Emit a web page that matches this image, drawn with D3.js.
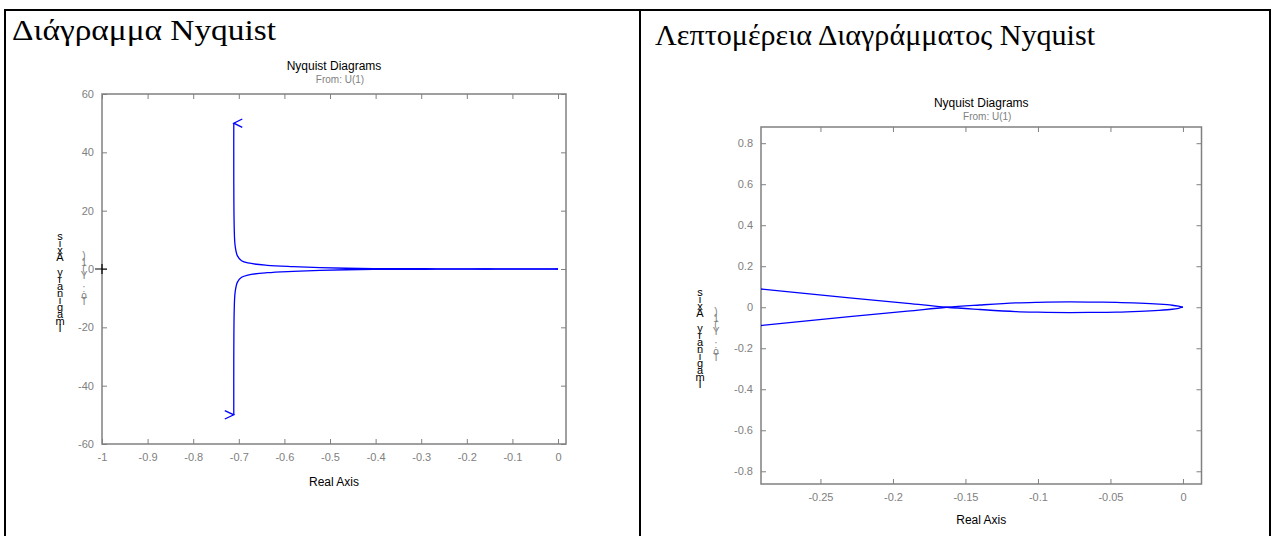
<!DOCTYPE html>
<html><head><meta charset="utf-8">
<script src="https://cdn.jsdelivr.net/npm/d3@7/dist/d3.min.js"></script>
<style>body{margin:0;background:#fff}svg{display:block}
.vert{writing-mode:vertical-rl;text-orientation:upright;}</style>
</head><body><svg id="c" width="1275" height="536"></svg>
<script>
// ---------- data ----------
const panelTitles = ["Διάγραμμα Nyquist", "Λεπτομέρεια Διαγράμματος Nyquist"];
const plotTitle = "Nyquist Diagrams";
const plotSubtitle = "From: U(1)";
const xLabel = "Real Axis";
const yLabel = "Imaginary Axis";
const yLabel2 = "To: Y(1)";
const leftXTicks = [-1, -0.9, -0.8, -0.7, -0.6, -0.5, -0.4, -0.3, -0.2, -0.1, 0];
const leftYTicks = [-60, -40, -20, 0, 20, 40, 60];
const rightXTicks = [-0.25, -0.2, -0.15, -0.1, -0.05, 0];
const rightYTicks = [-0.8, -0.6, -0.4, -0.2, 0, 0.2, 0.4, 0.6, 0.8];
// one branch of the Nyquist curve (the other is its mirror image)
const branchRe = [0, -0.003, -0.0074, -0.0166, -0.03, -0.046, -0.06, -0.0786, -0.10, -0.1154, -0.14, -0.163, -0.19, -0.23, -0.291, -0.346, -0.434, -0.522, -0.581, -0.638, -0.680, -0.694, -0.703, -0.708, -0.710, -0.711];
const branchIm = [0, -0.005, -0.0098, -0.015, -0.02, -0.024, -0.025, -0.026, -0.024, -0.021, -0.011, 0, 0.019, 0.046, 0.089, 0.13, 0.2, 0.45, 0.79, 1.27, 2.06, 2.85, 4.5, 7.9, 13.7, 50];
const criticalPoint = [-1, 0];

const svg = d3.select("#c");
const tickColor = "#808080";
const font = "'Liberation Sans', Arial, sans-serif";
const serif = "'Liberation Serif', 'Times New Roman', serif";

// ---------- table frame ----------
svg.append("rect").attr("x", 5).attr("y", 10).attr("width", 1265).attr("height", 540)
  .attr("fill", "none").attr("stroke", "#000").attr("stroke-width", 2);
svg.append("line").attr("x1", 640).attr("x2", 640).attr("y1", 10).attr("y2", 540)
  .attr("stroke", "#000").attr("stroke-width", 2);

svg.append("text").attr("x", 12).attr("y", 40).text(panelTitles[0])
  .attr("font-family", serif).attr("font-size", 30)
  .attr("textLength", 264).attr("lengthAdjust", "spacingAndGlyphs");
svg.append("text").attr("x", 655).attr("y", 45).text(panelTitles[1])
  .attr("font-family", serif).attr("font-size", 30)
  .attr("textLength", 440).attr("lengthAdjust", "spacingAndGlyphs");

const upper = branchRe.map((r, i) => [r, branchIm[i]]);
const lower = branchRe.map((r, i) => [r, -branchIm[i]]);
const fmt = d => String(d);

function panel(o) {
  const x = d3.scaleLinear().domain(o.xDom).range([o.x0, o.x1]);
  const y = d3.scaleLinear().domain(o.yDom).range([o.y1, o.y0]);
  const g = svg.append("g");
  const clipId = "clip" + o.id;
  g.append("clipPath").attr("id", clipId).append("rect")
    .attr("x", o.x0).attr("y", o.y0).attr("width", o.x1 - o.x0).attr("height", o.y1 - o.y0);

  const tl = 5;
  const axB = d3.axisBottom(x).tickValues(o.xTicks).tickSize(-tl).tickPadding(9).tickFormat(fmt);
  const axT = d3.axisTop(x).tickValues(o.xTicks).tickSize(-tl).tickFormat("");
  const axL = d3.axisLeft(y).tickValues(o.yTicks).tickSize(-tl).tickPadding(8).tickFormat(fmt);
  const axR = d3.axisRight(y).tickValues(o.yTicks).tickSize(-tl).tickFormat("");
  const style = s => {
    s.select(".domain").remove();
    s.selectAll("line").attr("stroke", tickColor);
    s.selectAll("text").attr("fill", tickColor).attr("font-family", font).attr("font-size", 11);
  };
  g.append("g").attr("transform", `translate(0,${o.y1})`).call(axB).call(style);
  g.append("g").attr("transform", `translate(0,${o.y0})`).call(axT).call(style);
  g.append("g").attr("transform", `translate(${o.x0},0)`).call(axL).call(style);
  g.append("g").attr("transform", `translate(${o.x1},0)`).call(axR).call(style);
  g.append("rect").attr("x", o.x0).attr("y", o.y0).attr("width", o.x1 - o.x0).attr("height", o.y1 - o.y0)
    .attr("fill", "none").attr("stroke", tickColor).attr("stroke-width", 1.5);

  const lineX = d3.line().x(d => x(d[0])).y(d => y(d[1])).curve(d3.curveCatmullRom.alpha(0.5));
  const curves = g.append("g").attr("clip-path", `url(#${clipId})`);
  [upper, lower].forEach(pts => {
    curves.append("path").attr("d", lineX(pts)).attr("fill", "none")
      .attr("stroke", "#0000ff").attr("stroke-width", 1.3);
  });
  // arrowheads
  const top = upper[upper.length - 1], bot = lower[lower.length - 1];
  const tx = x(top[0]), ty = y(top[1]), bx = x(bot[0]), by = y(bot[1]);
  curves.append("path").attr("d", `M${tx + 8.5},${ty - 4.2}L${tx},${ty}L${tx + 8.5},${ty + 4.2}`)
    .attr("fill", "none").attr("stroke", "#0000ff").attr("stroke-width", 1.3);
  curves.append("path").attr("d", `M${bx - 9},${by - 4.2}L${bx},${by}L${bx - 9},${by + 4.2}`)
    .attr("fill", "none").attr("stroke", "#0000ff").attr("stroke-width", 1.3);

  if (o.critical) {
    const cx = x(criticalPoint[0]), cy = y(criticalPoint[1]);
    g.append("path").attr("d", `M${cx - 7},${cy}H${cx + 5}M${cx},${cy - 5}V${cy + 5}`)
      .attr("stroke", "#000").attr("stroke-width", 1.2);
  }

  // titles
  const mid = (o.x0 + o.x1) / 2;
  g.append("text").attr("x", mid).attr("y", o.titleY).attr("text-anchor", "middle").text(plotTitle)
    .attr("font-family", font).attr("font-size", 12);
  g.append("text").attr("x", mid + 6).attr("y", o.titleY + 13).attr("text-anchor", "middle").text(plotSubtitle)
    .attr("font-family", font).attr("font-size", 10).attr("fill", tickColor);
  g.append("text").attr("x", mid).attr("y", o.y1 + o.xLabDy).attr("text-anchor", "middle").text(xLabel)
    .attr("font-family", font).attr("font-size", 12);

  // y label: rotated text whose glyphs stayed upright, stacked from the end
  g.append("text").attr("class", "vert").attr("x", o.labX).attr("y", o.labY)
    .attr("font-family", font).attr("font-size", 11).attr("letter-spacing", -4.9)
    .text(Array.from(yLabel).reverse().join(""));
  g.append("text").attr("class", "vert").attr("x", o.labX + o.lab2dx).attr("y", o.labY + 20)
    .attr("font-family", font).attr("font-size", 10).attr("letter-spacing", -4.4)
    .attr("fill", tickColor).text(Array.from(yLabel2).reverse().join(""));
}

panel({ id: "L", x0: 102, x1: 566, y0: 94, y1: 444, xDom: [-1, 0.0175], yDom: [-60, 60],
        xTicks: leftXTicks, yTicks: leftYTicks, critical: true, labX: 60, labY: 230, lab2dx: 24, titleY: 70, xLabDy: 42 });
panel({ id: "R", x0: 761, x1: 1201.5, y0: 127, y1: 484, xDom: [-0.291, 0.0128], yDom: [-0.862, 0.879],
        xTicks: rightXTicks, yTicks: rightYTicks, critical: false, labX: 700, labY: 286, lab2dx: 16, titleY: 107, xLabDy: 40 });
</script></body></html>
